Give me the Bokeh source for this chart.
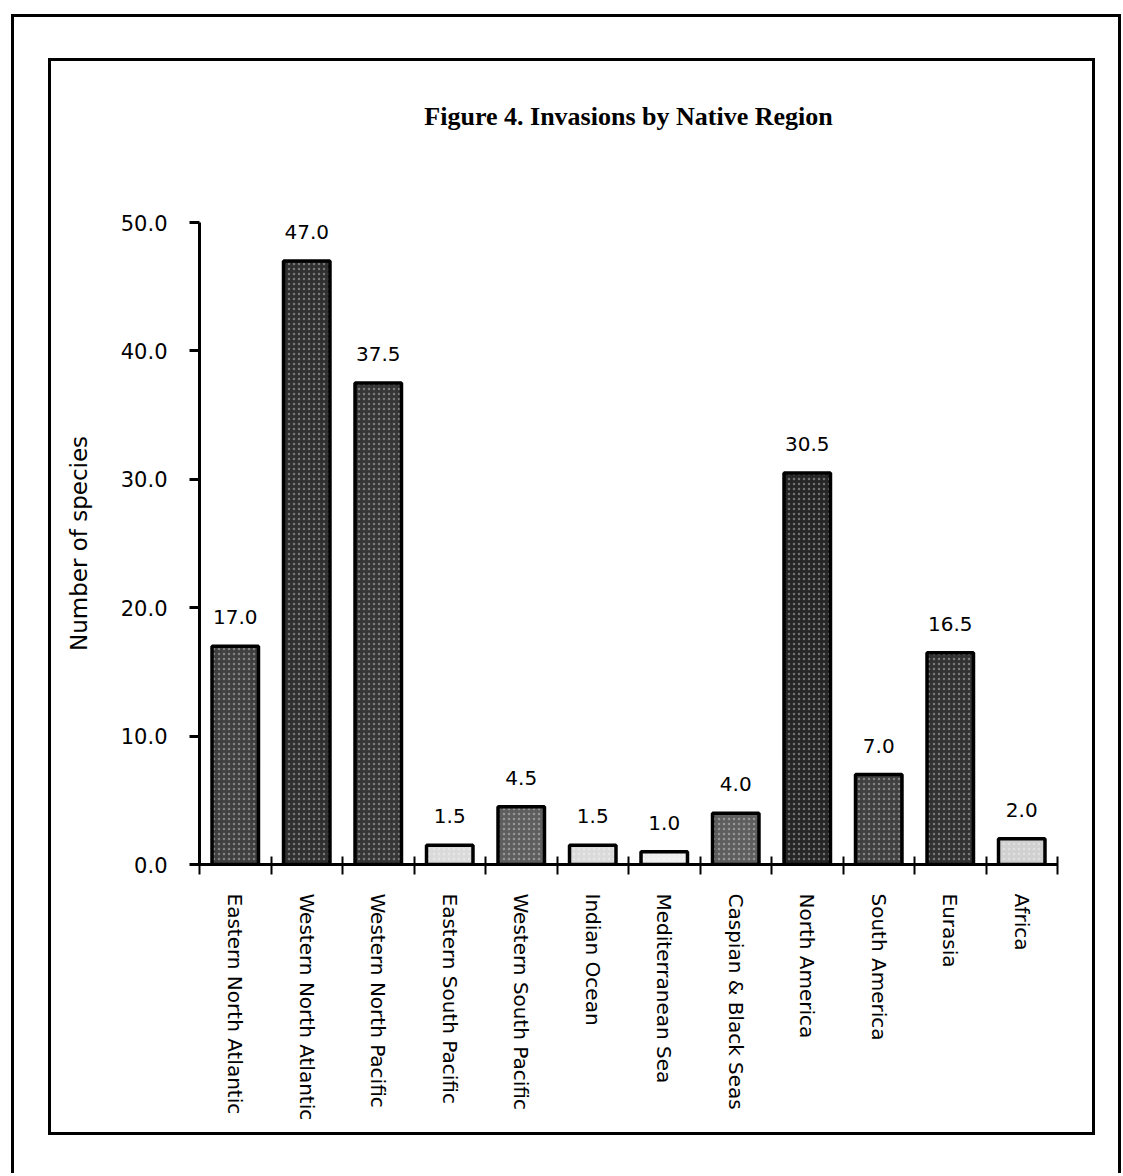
import numpy as np
from bokeh.plotting import figure
from bokeh.layouts import column
from bokeh.models import ColumnDataSource, Range1d, FixedTicker, LabelSet, Title
from bokeh.core.properties import value
from bokeh.embed import file_html
from bokeh.resources import INLINE

# ---- data ----
regions = ["Eastern North Atlantic", "Western North Atlantic", "Western North Pacific",
           "Eastern South Pacific", "Western South Pacific", "Indian Ocean",
           "Mediterranean Sea", "Caspian & Black Seas", "North America",
           "South America", "Eurasia", "Africa"]
species = [17.0, 47.0, 37.5, 1.5, 4.5, 1.5, 1.0, 4.0, 30.5, 7.0, 16.5, 2.0]
y_ticks = [0, 10, 20, 30, 40, 50]
title_text = "Figure 4. Invasions by Native Region"
y_title = "Number of species"

# ---- styling ----
bar_fill = ["#404040", "#303030", "#363636", "#dadada", "#5e5e5e", "#dadada",
            "#eeeeee", "#5e5e5e", "#262626", "#404040", "#323232", "#d0d0d0"]
FONT = "DejaVu Sans"

n = len(regions)
centers = [i + 0.5 for i in range(n)]
bounds = [float(i) for i in range(n + 1)]

src = ColumnDataSource(dict(
    x=centers, top=species, fill=bar_fill,
    lab=["%.1f" % v for v in species],
))

p = figure(width=1041, height=1071, output_backend="svg", toolbar_location=None,
           x_range=Range1d(0, n), y_range=Range1d(0, 50),
           min_border_left=148, min_border_right=35,
           min_border_top=161, min_border_bottom=268)
p.background_fill_color = "white"
p.border_fill_color = "white"
p.outline_line_color = None
p.grid.visible = False

p.title = Title(text=title_text, align="center", text_font="Liberation Serif",
                text_font_style="bold", text_font_size="26px", text_color="black",
                standoff=10)
# empty spacer panel between the title and the plot frame
p.add_layout(Title(text=" ", text_font_size="1px", standoff=84), "above")

p.vbar(x="x", top="top", width=0.65, bottom=0, source=src,
       fill_color="fill", line_color="black", line_width=3.5,
       hatch_pattern="dot", hatch_color="white", hatch_scale=5, hatch_alpha=0.35)

p.add_layout(LabelSet(x="x", y="top", text="lab", source=src,
                      text_align="center", text_baseline="bottom", y_offset=22,
                      text_font=value(FONT), text_font_size="20px", text_color="black"))

# x axis: labels at centres, ticks at category boundaries
xa = p.xaxis[0]
xa.ticker = FixedTicker(ticks=centers, minor_ticks=bounds)
xa.major_label_overrides = {c: r for c, r in zip(centers, regions)}
xa.major_label_orientation = "vertical"
xa.major_label_text_font = FONT
xa.major_label_text_font_size = "20px"
xa.major_label_text_color = "black"
xa.major_label_standoff = 19
xa.major_tick_in = 0
xa.major_tick_out = 0
xa.minor_tick_in = 8
xa.minor_tick_out = 10
xa.minor_tick_line_color = "black"
xa.minor_tick_line_width = 2
xa.axis_line_width = 3
xa.axis_line_color = "black"

ya = p.yaxis[0]
ya.ticker = FixedTicker(ticks=y_ticks, minor_ticks=[])
ya.major_label_overrides = {t: "%.1f" % t for t in y_ticks}
ya.major_label_text_font = FONT
ya.major_label_text_font_size = "21px"
ya.major_label_text_color = "black"
ya.major_label_standoff = 22
ya.major_tick_in = 0
ya.major_tick_out = 10
ya.major_tick_line_width = 3
ya.axis_line_width = 3
ya.axis_line_color = "black"
ya.axis_label = y_title
ya.axis_label_text_font = FONT
ya.axis_label_text_font_size = "23px"
ya.axis_label_text_font_style = "normal"
ya.axis_label_text_color = "black"
ya.axis_label_standoff = 26

# frames of the scanned page, as bordered containers
inner = column(p, styles={"border": "3px solid black"})
outer = column(inner, styles={
    "margin-left": "11px", "margin-top": "14px",
    "border-left": "3px solid black", "border-top": "3px solid black",
    "border-right": "3px solid black",
    "padding-left": "34px", "padding-top": "41px",
    "padding-right": "23px", "padding-bottom": "38px",
})

open("out.html", "w").write(file_html(outer, INLINE))
